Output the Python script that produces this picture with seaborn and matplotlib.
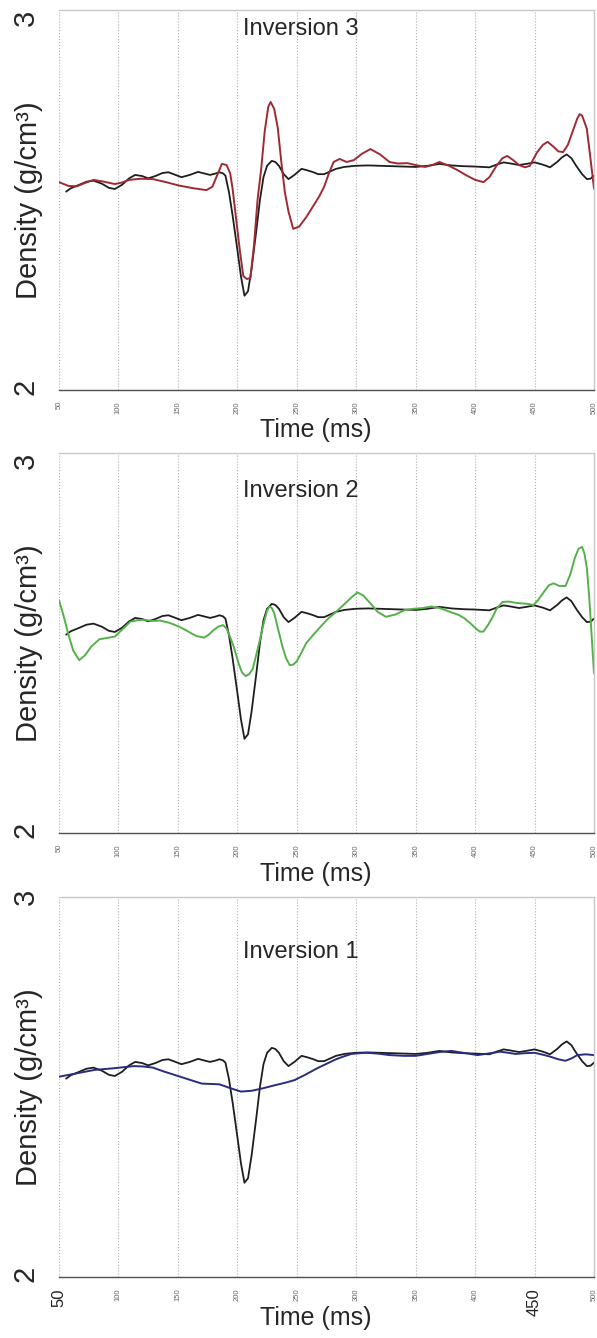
import matplotlib
matplotlib.use('Agg')
import matplotlib.pyplot as plt
from matplotlib.ticker import MultipleLocator
import seaborn as sns

# - data - #
time_ticks = [50, 100, 150, 200, 250, 300, 350, 400, 450, 500]
panel_names = ['Inversion 3', 'Inversion 2', 'Inversion 1']

# well log (black), same in all three panels
log_t = [56, 60, 67, 73, 79, 86, 92, 97, 103, 109,
         114, 120, 125, 131, 137, 142, 148, 153, 160, 167,
         172, 177, 181, 185, 188, 190, 193, 196, 200, 203,
         206, 209, 212, 216, 219, 222, 225, 229, 232, 235,
         239, 243, 248, 254, 259, 264, 268, 273, 278, 283,
         290, 299, 310, 320, 330, 340, 350, 360, 370, 380,
         390, 400, 412, 418, 424, 430, 437, 443, 450, 457,
         463, 469, 473, 477, 481, 485, 490, 494, 497, 500]
log_rho = [2.522, 2.531, 2.540, 2.548, 2.551, 2.543, 2.532, 2.529, 2.540, 2.557,
           2.566, 2.563, 2.557, 2.563, 2.571, 2.573, 2.566, 2.560, 2.566, 2.574,
           2.570, 2.566, 2.569, 2.573, 2.570, 2.564, 2.520, 2.460, 2.370, 2.300,
           2.248, 2.260, 2.320, 2.420, 2.500, 2.560, 2.590, 2.603, 2.600, 2.590,
           2.568, 2.555, 2.566, 2.582, 2.578, 2.573, 2.568, 2.568, 2.575, 2.582,
           2.587, 2.590, 2.591, 2.590, 2.589, 2.588, 2.587, 2.590, 2.595, 2.591,
           2.589, 2.588, 2.586, 2.593, 2.599, 2.596, 2.592, 2.595, 2.599, 2.593,
           2.586, 2.600, 2.612, 2.620, 2.610, 2.590, 2.568, 2.555, 2.556, 2.564]

# inversion 3 (red)
inv3_t = [50, 58, 65, 72, 79, 88, 97, 103, 109, 119,
          129, 140, 151, 163, 174, 179, 183, 187, 191, 194,
          196, 199, 202, 205, 208, 211, 214, 217, 220, 223,
          226, 228, 231, 234, 237, 240, 243, 247, 252, 258,
          264, 269, 273, 277, 281, 286, 292, 298, 305, 312,
          320, 328, 335, 343, 350, 358, 364, 370, 378, 385,
          392, 400, 407, 412, 418, 423, 427, 432, 437, 442,
          446, 452, 457, 461, 466, 470, 474, 478, 482, 486,
          488, 490, 492, 494, 497, 500]
inv3_rho = [2.547, 2.537, 2.536, 2.545, 2.553, 2.548, 2.542, 2.546, 2.553, 2.556,
            2.555, 2.547, 2.538, 2.531, 2.526, 2.535, 2.565, 2.595, 2.592, 2.570,
            2.530, 2.450, 2.370, 2.300, 2.292, 2.295, 2.380, 2.500, 2.580, 2.680,
            2.745, 2.758, 2.740, 2.690, 2.600, 2.520, 2.470, 2.424, 2.430, 2.455,
            2.485, 2.510, 2.535, 2.570, 2.600, 2.608, 2.600, 2.605, 2.622, 2.634,
            2.620, 2.600, 2.596, 2.597, 2.592, 2.587, 2.592, 2.600, 2.590, 2.579,
            2.566, 2.553, 2.547, 2.560, 2.590, 2.610, 2.616, 2.605, 2.592, 2.586,
            2.590, 2.625, 2.645, 2.653, 2.640, 2.628, 2.626, 2.645, 2.680, 2.715,
            2.726, 2.722, 2.705, 2.687, 2.610, 2.530]

# inversion 2 (green)
inv2_t = [50, 54, 58, 62, 67, 72, 77, 84, 90, 97,
          103, 110, 116, 122, 128, 135, 143, 151, 156, 161,
          166, 172, 176, 180, 184, 188, 191, 194, 197, 201,
          204, 207, 210, 213, 216, 219, 222, 225, 227, 229,
          231, 234, 238, 241, 244, 247, 250, 254, 258, 264,
          270, 276, 283, 290, 296, 301, 306, 312, 318, 325,
          333, 341, 348, 356, 363, 370, 378, 386, 391, 396,
          401, 404, 407, 411, 415, 418, 423, 428, 436, 444,
          449, 453, 458, 462, 466, 471, 476, 480, 484, 487,
          490, 492, 494, 496, 498, 500]
inv2_rho = [2.613, 2.570, 2.521, 2.480, 2.455, 2.468, 2.490, 2.510, 2.513, 2.517,
            2.535, 2.556, 2.560, 2.561, 2.558, 2.559, 2.553, 2.543, 2.535, 2.526,
            2.518, 2.514, 2.522, 2.534, 2.543, 2.547, 2.538, 2.515, 2.490, 2.447,
            2.422, 2.413, 2.418, 2.432, 2.470, 2.508, 2.550, 2.585, 2.596, 2.592,
            2.579, 2.540, 2.490, 2.460, 2.442, 2.443, 2.452, 2.475, 2.500, 2.522,
            2.543, 2.563, 2.582, 2.602, 2.620, 2.633, 2.625, 2.604, 2.582, 2.569,
            2.575, 2.587, 2.590, 2.592, 2.596, 2.592, 2.583, 2.574, 2.565, 2.552,
            2.537, 2.530, 2.530, 2.548, 2.570, 2.590, 2.608, 2.609, 2.605, 2.603,
            2.600, 2.613, 2.635, 2.652, 2.657, 2.650, 2.650, 2.680, 2.725, 2.748,
            2.753, 2.735, 2.697, 2.620, 2.520, 2.420]

# inversion 1 (blue)
inv1_t = [50, 65, 80, 95, 113, 121, 129, 138, 148, 159,
          170, 178, 185, 194, 203, 212, 222, 232, 240, 248,
          257, 267, 275, 283, 290, 296, 303, 309, 318, 328,
          340, 350, 360, 370, 380, 390, 402, 411, 421, 428,
          434, 442, 450, 457, 463, 470, 476, 481, 486, 493, 500]
inv1_rho = [2.527, 2.536, 2.545, 2.549, 2.555, 2.554, 2.551, 2.541, 2.531, 2.520,
            2.509, 2.508, 2.507, 2.497, 2.488, 2.490, 2.497, 2.505, 2.511, 2.518,
            2.532, 2.549, 2.561, 2.573, 2.581, 2.587, 2.589, 2.590, 2.588, 2.584,
            2.582, 2.582, 2.587, 2.592, 2.595, 2.590, 2.584, 2.588, 2.593, 2.590,
            2.587, 2.589, 2.590, 2.585, 2.580, 2.573, 2.569, 2.575, 2.584, 2.586, 2.584]

# - layout - #
W, H = 597, 1338
panels = [
    # top px, series t, series rho, colour, label y, '3' alignment
    (10, inv3_t, inv3_rho, '#9e2a33', 2.95, 'top'),
    (453, inv2_t, inv2_rho, '#55b04a', 2.90, 'top'),
    (897, inv1_t, inv1_rho, '#2b2b80', 2.855, 'center'),
]

sns.set_style('white')
plt.rcParams['font.family'] = ['Liberation Sans', 'DejaVu Sans']

fig = plt.figure(figsize=(W / 100, H / 100), dpi=100)

for i, (top, inv_t, inv_rho, col, lab_y, va3) in enumerate(panels):
    ax = fig.add_axes([59 / W, 1 - (top + 380) / H, 535 / W, 380 / H])

    sns.lineplot(x=log_t, y=log_rho, ax=ax, color='#1e1e1e', lw=1.3,
                 estimator=None, sort=False)
    sns.lineplot(x=inv_t, y=inv_rho, ax=ax, color=col, lw=1.4,
                 estimator=None, sort=False)

    ax.set_xlim(50, 500)
    ax.set_ylim(2, 3)

    # x axis: major every 50, minor every 5, tiny rotated labels
    ax.set_xticks(time_ticks)
    ax.set_xticklabels([str(t) for t in time_ticks], rotation=90)
    ax.xaxis.set_minor_locator(MultipleLocator(5))
    ax.tick_params(axis='x', which='major', direction='out', length=6, width=0.8,
                   color='#505050', pad=2, labelsize=5.5, labelcolor='#666666')
    ax.tick_params(axis='x', which='minor', direction='out', length=4, width=0.7,
                   color='#505050')
    ax.grid(True, axis='x', which='major', ls=':', color='#b0b0b0', lw=0.8)
    ax.grid(False, axis='y')

    if i == 2:
        for lbl in ax.get_xticklabels():
            if lbl.get_text() in ('50', '450'):
                lbl.set_fontsize(12)
                lbl.set_color('#222222')

    # y axis: only 2 and 3 labelled
    ax.set_yticks([2, 2.5, 3])
    ax.set_yticklabels(['2', '', '3'], rotation=90)
    ax.tick_params(axis='y', direction='out', length=8, width=0.8,
                   color='#bbbbbb', pad=6, labelsize=21)
    ax.yaxis.get_major_ticks()[0].tick1line.set_visible(False)
    ax.get_yticklabels()[2].set_va(va3)

    ax.spines['left'].set_visible(False)
    for s in ('top', 'right'):
        ax.spines[s].set_color('#c8c8c8')
        ax.spines[s].set_linewidth(1.0)
    ax.spines['bottom'].set_color('#505050')
    ax.spines['bottom'].set_linewidth(1.0)

    ax.set_xlabel('Time (ms)', fontsize=18)
    ax.xaxis.set_label_coords(0.48, -0.075)
    ax.set_ylabel('Density (g/cm³)', fontsize=21)
    ax.yaxis.set_label_coords(-0.03, 0.5)

    ax.text(205, lab_y, panel_names[i], fontsize=17, ha='left', va='center')

fig.savefig('out.png', dpi=100)
